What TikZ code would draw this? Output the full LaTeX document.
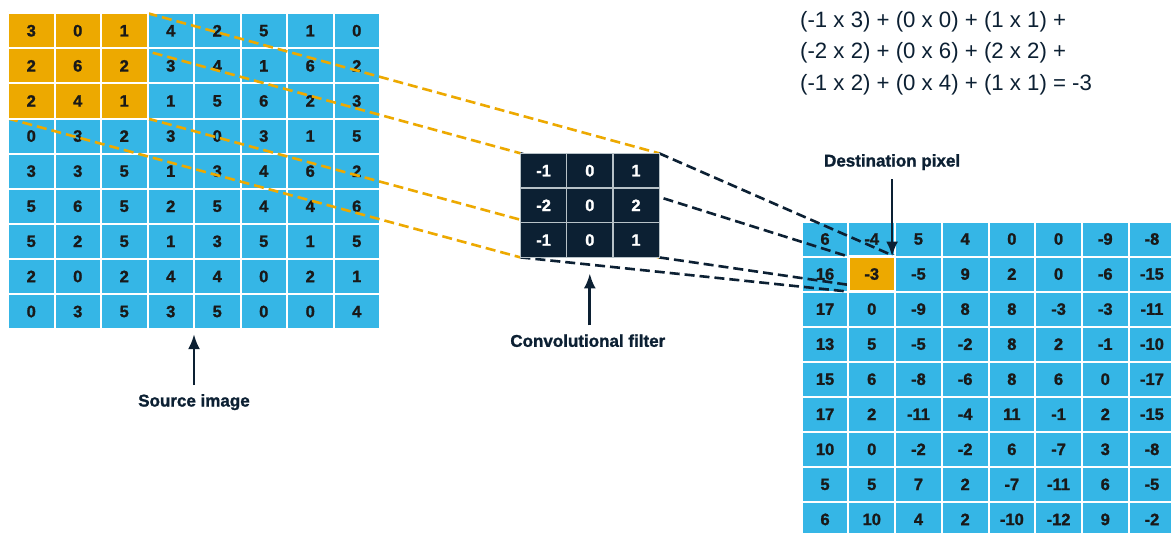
\documentclass[tikz,border=0pt]{standalone}
\usepackage{fontspec}
\setmainfont{Liberation Sans}
\newfontfamily\heavy{Liberation Sans}[BoldFeatures={FakeBold=1.3}]
\usetikzlibrary{arrows.meta,positioning}
\definecolor{skyblue}{HTML}{35B6E6}
\definecolor{amber}{HTML}{EDA900}
\definecolor{inkblue}{HTML}{0C2033}
\definecolor{gridgray}{HTML}{B8C2C8}
\pgfdeclarelayer{grid}
\pgfdeclarelayer{links}
\pgfsetlayers{grid,links,main}

\begin{document}
\begin{tikzpicture}[
    x=1pt, y=-1pt,
    cell/.style={rectangle, draw=white, line width=2pt, inner sep=0pt, outer sep=0pt, minimum width=46.5pt, minimum height=35.1pt, font=\heavy\fontsize{16.5}{16.5}\selectfont\bfseries, text=black!90, fill=skyblue},
    hot/.style={cell, fill=amber},
    kern/.style={cell, fill=inkblue, draw=gridgray, line width=1.2pt, text=white, minimum width=46.2pt, minimum height=34.7pt},
    caption/.style={font=\heavy\fontsize{17}{17}\selectfont\bfseries, text=inkblue, inner sep=0pt, outer sep=9pt},
    eqline/.style={font=\fontsize{22.2}{22.2}\selectfont, text=inkblue, inner sep=0pt},
    arrow/.style={-{Latex[length=15pt,width=12pt]}, line width=2.7pt, draw=inkblue},
    ylink/.style={draw=amber, line width=2.6pt, dash pattern=on 10pt off 5pt},
    nlink/.style={draw=inkblue, line width=2.6pt, dash pattern=on 10pt off 5pt}
]
    \useasboundingbox (0,0) rectangle (1171,533);
    \begin{pgfonlayer}{grid}
        \fill[white] (0,0) rectangle (1171,533);
    \end{pgfonlayer}

    % Source image, window of the filter in amber
    \foreach \line [count=\r] in {{3,0,1,4,2,5,1,0},{2,6,2,3,4,1,6,2},{2,4,1,1,5,6,2,3},
        {0,3,2,3,0,3,1,5},{3,3,5,1,3,4,6,2},{5,6,5,2,5,4,4,6},
        {5,2,5,1,3,5,1,5},{2,0,2,4,4,0,2,1},{0,3,5,3,5,0,0,4}}{
        \foreach \v [count=\c] in \line {
            \pgfmathsetmacro{\cx}{8+46.5*(\c-0.5)}
            \pgfmathsetmacro{\cy}{13.2+35.1*(\r-0.5)}
            \pgfmathtruncatemacro{\inwin}{and(\r<4,\c<4)}
            \ifnum\inwin=1
                \node[hot] (src-\r-\c) at (\cx,\cy) {\v};
            \else
                \begin{pgfonlayer}{grid}
                    \node[cell] (src-\r-\c) at (\cx,\cy) {\v};
                \end{pgfonlayer}
            \fi
        }
    }

    % Convolutional filter
    \foreach \line [count=\r] in {{-1,0,1},{-2,0,2},{-1,0,1}}{
        \foreach \v [count=\c] in \line {
            \node[kern] (filt-\r-\c) at ({520.5+46.2*(\c-0.5)},{153.3+34.7*(\r-0.5)}) {\v};
        }
    }

    % Destination image, computed pixel in amber
    \foreach \line [count=\r] in {{6,-4,5,4,0,0,-9,-8},{16,-3,-5,9,2,0,-6,-15},{17,0,-9,8,8,-3,-3,-11},
        {13,5,-5,-2,8,2,-1,-10},{15,6,-8,-6,8,6,0,-17},{17,2,-11,-4,11,-1,2,-15},
        {10,0,-2,-2,6,-7,3,-8},{5,5,7,2,-7,-11,6,-5},{6,10,4,2,-10,-12,9,-2}}{
        \foreach \v [count=\c] in \line {
            \pgfmathsetmacro{\cx}{801.7+46.7*(\c-0.5)}
            \pgfmathsetmacro{\cy}{221.5+35.05*(\r-0.5)}
            \pgfmathtruncatemacro{\ispix}{and(\r==2,\c==2)}
            \ifnum\ispix=1
                \node[hot, minimum width=46.7pt, minimum height=35.05pt, line width=2.5pt] (dst-\r-\c) at (\cx,\cy) {\v};
            \else
                \begin{pgfonlayer}{grid}
                    \node[cell, minimum width=46.7pt, minimum height=35.05pt] (dst-\r-\c) at (\cx,\cy) {\v};
                \end{pgfonlayer}
            \fi
        }
    }

    % Projection lines
    \begin{pgfonlayer}{links}
        \draw[ylink] (src-1-1.north west) -- (filt-1-1.north west);
        \draw[ylink] (src-1-3.north east) -- (filt-1-3.north east);
        \draw[ylink] (src-3-1.south west) -- (filt-3-1.south west);
        \draw[ylink] (src-3-3.south east) -- (filt-3-3.south east);
        \draw[nlink] (filt-1-1.north west) -- (dst-2-2.north west);
        \draw[nlink] (filt-1-3.north east) -- (dst-2-2.north east);
        \draw[nlink] (filt-3-1.south west) -- (dst-2-2.south west);
        \draw[nlink] (filt-3-3.south east) -- (dst-2-2.south east);
    \end{pgfonlayer}

    % Captions
    \node[caption, anchor=base] (srclabel) at ([yshift=-77.4pt]src-9-4.south east) {Source image};
    \node[caption, anchor=base] (filtlabel) at ([xshift=-2pt, yshift=-89.4pt]filt-3-2.south) {Convolutional filter};
    \node[caption, anchor=base] (dstlabel) at ([xshift=-3pt, yshift=90pt]dst-2-2.north east) {Destination pixel};

    \draw[arrow] (srclabel.north) -- ([yshift=-5pt]src-9-4.south east);
    \draw[arrow] (filtlabel.north -| filt-3-2.south) -- ([yshift=-16pt]filt-3-2.south);
    \draw[arrow] (dstlabel.south) -- (dstlabel.south |- dst-2-2.north east);

    % Sum for the destination pixel
    \node[eqline, anchor=base west] (eq1) at (800,27) {(-1 x 3) + (0 x 0) + (1 x 1) +};
    \node[eqline, below=31.75pt of eq1.base west, anchor=base west] (eq2) {(-2 x 2) + (0 x 6) + (2 x 2) +};
    \node[eqline, below=31.75pt of eq2.base west, anchor=base west] (eq3) {(-1 x 2) + (0 x 4) + (1 x 1) = -3};
\end{tikzpicture}
\end{document}
